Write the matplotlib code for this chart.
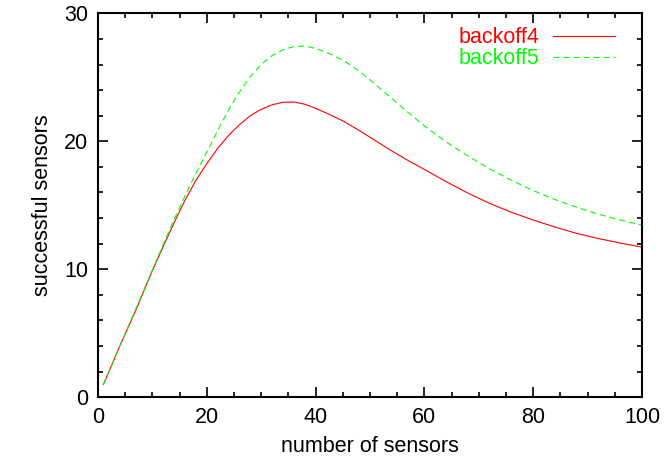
import matplotlib
matplotlib.use('Agg')
import matplotlib.pyplot as plt
from matplotlib.ticker import MultipleLocator

plt.rcParams['font.family'] = ['Liberation Sans', 'DejaVu Sans']

# number of sensors vs. successful sensors for two backoff settings
sensors = [1, 4, 7, 10, 12, 14, 16, 18, 20, 22, 24, 26, 28, 30, 32, 34, 36,
           38, 40, 42, 45, 48, 51, 54, 57, 60, 64, 68, 72, 76, 80, 84, 88,
           92, 96, 100]
backoff4 = [1.0, 4.0, 6.85, 9.9, 11.8, 13.65, 15.4, 16.95, 18.25, 19.45,
            20.45, 21.3, 22.0, 22.5, 22.85, 23.05, 23.07, 22.9, 22.58, 22.2,
            21.6, 20.85, 20.05, 19.25, 18.5, 17.8, 16.85, 15.95, 15.15, 14.45,
            13.85, 13.3, 12.8, 12.4, 12.05, 11.73]
backoff5 = [1.0, 4.0, 6.95, 9.95, 11.95, 13.9, 15.75, 17.5, 19.15, 20.85,
            22.45, 23.85, 25.05, 26.0, 26.7, 27.15, 27.4, 27.45, 27.25, 26.95,
            26.35, 25.5, 24.45, 23.35, 22.25, 21.2, 19.95, 18.85, 17.85, 16.95,
            16.15, 15.45, 14.85, 14.3, 13.85, 13.45]

fig = plt.figure(figsize=(6.64, 4.67), dpi=100)
ax = fig.add_axes([0.1476, 0.1493, 0.8193, 0.8222])

ax.plot(sensors, backoff4, color='#ff0000', lw=0.8, label='backoff4')
ax.plot(sensors, backoff5, color='#00ff00', lw=0.8, linestyle=(0, (5.5, 3.5)),
        label='backoff5')

ax.set_xlim(0, 100)
ax.set_ylim(0, 30)
ax.xaxis.set_major_locator(MultipleLocator(20))
ax.xaxis.set_minor_locator(MultipleLocator(5))
ax.yaxis.set_major_locator(MultipleLocator(10))
ax.yaxis.set_minor_locator(MultipleLocator(2))
ax.tick_params(which='both', direction='in', top=True, right=True,
               labelsize=15.5, width=1.2, pad=7)
ax.tick_params(which='major', length=7)
ax.tick_params(which='minor', length=3.5)
for s in ax.spines.values():
    s.set_linewidth(1.5)

ax.set_xlabel('number of sensors', fontsize=15.5, labelpad=6)
ax.set_ylabel('successful sensors', fontsize=15.5, labelpad=8)

ax.legend(loc='upper right', bbox_to_anchor=(0.976, 1.0), frameon=False,
          markerfirst=False, labelcolor='linecolor', fontsize=15.5,
          handlelength=2.9, handletextpad=0.6, labelspacing=0.0,
          borderaxespad=0.35, borderpad=0.3)

fig.savefig('out.png', dpi=100)
